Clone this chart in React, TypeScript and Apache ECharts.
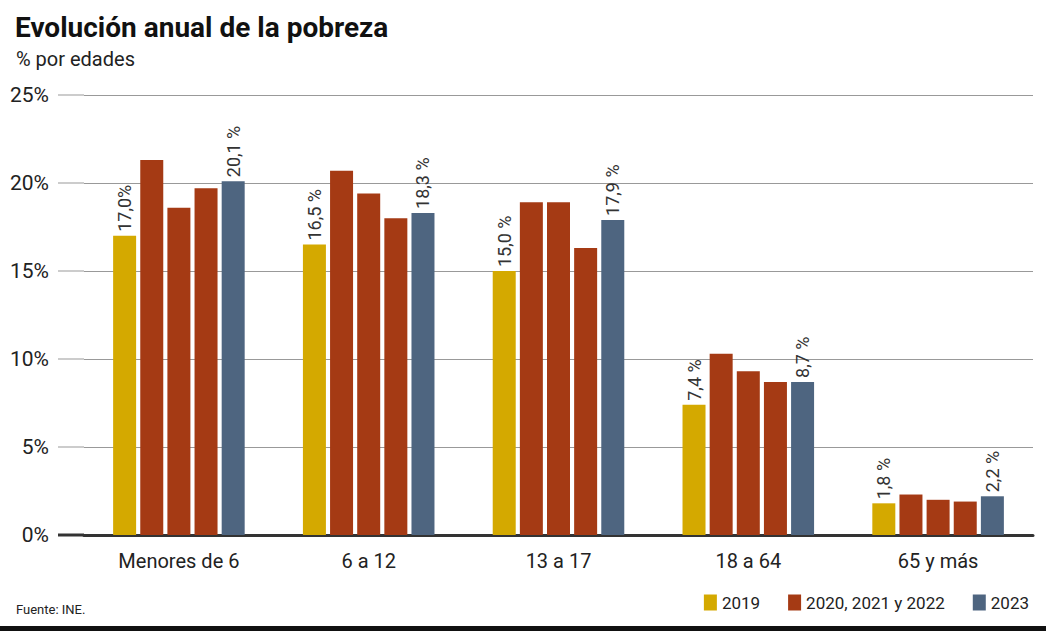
import React, { useEffect, useRef } from "react";
import * as echarts from "echarts";

const categories = ["Menores de 6", "6 a 12", "13 a 17", "18 a 64", "65 y más"];
const values2019 = [17.0, 16.5, 15.0, 7.4, 1.8];
const values2020 = [21.3, 20.7, 18.9, 10.3, 2.3];
const values2021 = [18.6, 19.4, 18.9, 9.3, 2.0];
const values2022 = [19.7, 18.0, 16.3, 8.7, 1.9];
const values2023 = [20.1, 18.3, 17.9, 8.7, 2.2];
const labels2019 = ["17,0%", "16,5 %", "15,0 %", "7,4 %", "1,8 %"];
const labels2023 = ["20,1 %", "18,3 %", "17,9 %", "8,7 %", "2,2 %"];
const yTicks = [0, 5, 10, 15, 20, 25];

const FONT = "Roboto, 'Noto Sans', sans-serif";
const YELLOW = "#d4a900";
const RED = "#a53a14";
const BLUE = "#4e6580";

export default function App() {
  const ref = useRef<HTMLDivElement>(null);
  useEffect(() => {
    if (!ref.current) return;
    const chart = echarts.init(ref.current, null, { renderer: "svg" });
    const gridLeft = 84;
    const label = (arr: string[]) => ({
      show: true,
      position: "top",
      rotate: 90,
      align: "left",
      verticalAlign: "middle",
      distance: 4,
      fontFamily: FONT,
      fontSize: 18,
      color: "#333",
      formatter: (p: any) => arr[p.dataIndex],
    });
    const common = { type: "bar", barWidth: 23, barGap: "18%" };
    chart.setOption({
      animation: false,
      textStyle: { fontFamily: FONT },
      title: [
        {
          text: "Evolución anual de la pobreza",
          left: 10,
          top: 8,
          textStyle: { fontFamily: FONT, fontSize: 28, fontWeight: "bold", color: "#111" },
        },
        {
          text: "% por edades",
          left: 11,
          top: 44,
          textStyle: { fontFamily: FONT, fontSize: 20, fontWeight: "normal", color: "#222" },
        },
        {
          text: "Fuente: INE.",
          left: 11,
          top: 598,
          textStyle: { fontFamily: FONT, fontSize: 13, fontWeight: "normal", color: "#222" },
        },
      ],
      legend: {
        data: ["2019", "2020, 2021 y 2022", "2023"],
        right: 12,
        top: 589,
        icon: "rect",
        itemWidth: 13,
        itemHeight: 16,
        itemGap: 28,
        textStyle: { fontFamily: FONT, fontSize: 17, color: "#222" },
      },
      grid: { left: gridLeft, right: 13, top: 95, bottom: 99 },
      xAxis: {
        type: "category",
        data: categories,
        axisTick: { show: false },
        axisLine: { lineStyle: { color: "#333", width: 3 } },
        axisLabel: { fontFamily: FONT, fontSize: 20, color: "#222", margin: 16 },
      },
      yAxis: {
        type: "value",
        min: 0,
        max: 25,
        interval: 5,
        axisLabel: {
          formatter: "{value}%",
          fontFamily: FONT,
          fontSize: 21,
          color: "#222",
          margin: 35,
        },
        splitLine: { lineStyle: { color: "#999", width: 1 } },
      },
      series: [
        { ...common, name: "2019", data: values2019, itemStyle: { color: YELLOW }, label: label(labels2019) },
        { ...common, name: "2020, 2021 y 2022", data: values2020, itemStyle: { color: RED } },
        { ...common, name: "2021", data: values2021, itemStyle: { color: RED } },
        { ...common, name: "2022", data: values2022, itemStyle: { color: RED } },
        { ...common, name: "2023", data: values2023, itemStyle: { color: BLUE }, label: label(labels2023) },
      ],
    });
    const ext = yTicks.map((v) => {
      const y = chart.convertToPixel({ yAxisIndex: 0 }, v) as number;
      return {
        type: "line",
        shape: { x1: 58, y1: y, x2: gridLeft, y2: y },
        style: v === 0 ? { stroke: "#333", lineWidth: 3 } : { stroke: "#999", lineWidth: 1 },
        z: 5,
      };
    });
    chart.setOption({
      graphic: [
        ...ext,
        { type: "rect", shape: { x: 0, y: 626, width: 1046, height: 5 }, style: { fill: "#111" } },
      ],
    });
    return () => chart.dispose();
  }, []);
  return (
    <div
      ref={ref}
      style={{ position: "fixed", left: 0, top: 0, width: 1046, height: 634, background: "#fff" }}
    />
  );
}
